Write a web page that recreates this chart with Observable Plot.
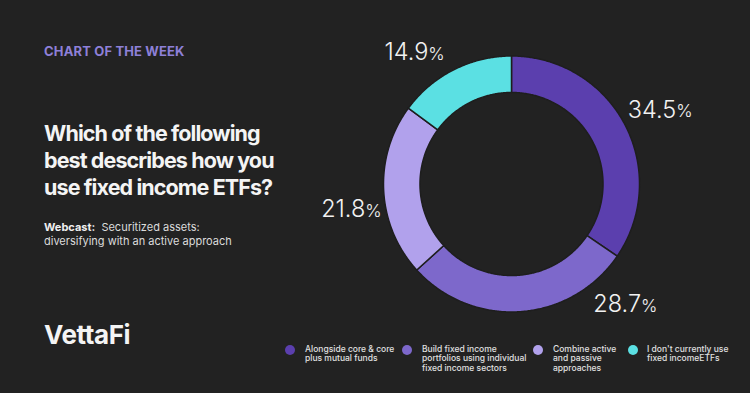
<!DOCTYPE html>
<html>
<head>
<meta charset="utf-8">
<script src="https://cdn.jsdelivr.net/npm/d3@7"></script>
<script src="https://cdn.jsdelivr.net/npm/@observablehq/plot@0.6"></script>
<style>
  html, body { margin: 0; padding: 0; background: #222222; }
  #wrap { position: relative; width: 750px; height: 393px; overflow: hidden; background: #222222; font-family: Inter, "Liberation Sans", sans-serif; }
  #chart { position: absolute; left: 0; top: 0; }
  .kicker { position: absolute; left: 44px; top: 43px; font-size: 13px; font-weight: 700; color: #8e80d8; letter-spacing: 0.15px; }
  .title { position: absolute; left: 44px; top: 120px; font-size: 21.5px; font-weight: 700; color: #f4f4f4; line-height: 27px; letter-spacing: -0.9px; }
  .sub { position: absolute; left: 44px; top: 220px; font-size: 11px; color: #dcdcdc; line-height: 14px; }
  .sub b { font-weight: 700; color: #f0f0f0; }
  .logo { position: absolute; left: 44px; top: 319px; font-size: 26px; font-weight: 700; color: #f4f4f4; letter-spacing: -0.4px; }
  .leg { position: absolute; top: 345px; font-size: 8.5px; line-height: 9.4px; color: #e0e0e0; font-weight: 500; }
  .dot { position: absolute; width: 10px; height: 10px; border-radius: 50%; top: 345px; }
</style>
</head>
<body>
<div id="wrap">
  <div id="chart"></div>
  <div class="kicker">CHART OF THE WEEK</div>
  <div class="title">Which of the following<br>best describes how you<br>use fixed income ETFs?</div>
  <div class="sub"><b>Webcast:</b>&nbsp; Securitized assets:<br>diversifying with an active approach</div>
  <div class="logo">VettaFi</div>
  <div id="legend"></div>
</div>
<script>
const categories = [
  "Alongside core & core<br>plus mutual funds",
  "Build fixed income<br>portfolios using individual<br>fixed income sectors",
  "Combine active<br>and passive<br>approaches",
  "I don't currently use<br>fixed incomeETFs"
];
const values = [34.5, 28.7, 21.8, 14.9];
const labels = ["34.5", "28.7", "21.8", "14.9"];
const colors = ["#5b3fae", "#7d68cb", "#b1a1ec", "#5be0e3"];

// layout (not data)
const cx = 511, cy = 183.5, R = 128;
const innerRatio = 0.715;
const labelRadius = 1.29;
const labelShiftDeg = [1.3, -39, -5.9, -10.5];
const legendDotX = [285, 402, 533, 628];
const legendTextX = [305, 422, 553, 647];

const pie = d3.pie().sort(null).value(d => d)(values);
const slices = pie.map((p, i) => {
  const pts = [];
  const n = Math.max(8, Math.ceil((p.endAngle - p.startAngle) / (Math.PI / 360)));
  for (let k = 0; k <= n; k++) {
    const a = p.startAngle + (p.endAngle - p.startAngle) * k / n;
    pts.push({x: Math.sin(a), y: Math.cos(a)});
  }
  for (let k = n; k >= 0; k--) {
    const a = p.startAngle + (p.endAngle - p.startAngle) * k / n;
    pts.push({x: innerRatio * Math.sin(a), y: innerRatio * Math.cos(a)});
  }
  return {pts, color: colors[i]};
});

const labelData = pie.map((p, i) => {
  const a = (p.startAngle + p.endAngle) / 2 + labelShiftDeg[i] * Math.PI / 180;
  return {x: labelRadius * Math.sin(a), y: labelRadius * Math.cos(a), t: labels[i]};
});

const plot = Plot.plot({
  width: 750,
  height: 393,
  margin: 0,
  style: {background: "transparent", fontFamily: "Inter, 'Liberation Sans', sans-serif"},
  x: {domain: [-1, 1], range: [cx - R, cx + R], axis: null},
  y: {domain: [-1, 1], range: [cy + R, cy - R], axis: null},
  marks: [
    ...slices.map(s => Plot.line(s.pts, {x: "x", y: "y", fill: s.color, stroke: "#1e1e1e", strokeWidth: 1.5, curve: "linear-closed"})),
    Plot.text(labelData, {x: "x", y: "y", text: "t", textAnchor: "end", dx: 17, fontSize: 23.5, fontWeight: 300, fill: "#f2f2f2"}),
    Plot.text(labelData, {x: "x", y: "y", text: () => "%", textAnchor: "start", dx: 17, dy: 1.5, fontSize: 17.5, fontWeight: 300, fill: "#f2f2f2"})
  ]
});
document.getElementById("chart").appendChild(plot);

const leg = document.getElementById("legend");
categories.forEach((c, i) => {
  const d = document.createElement("div");
  d.className = "dot";
  d.style.left = legendDotX[i] + "px";
  d.style.background = colors[i];
  leg.appendChild(d);
  const t = document.createElement("div");
  t.className = "leg";
  t.style.left = legendTextX[i] + "px";
  t.innerHTML = c;
  leg.appendChild(t);
});
</script>
</body>
</html>
